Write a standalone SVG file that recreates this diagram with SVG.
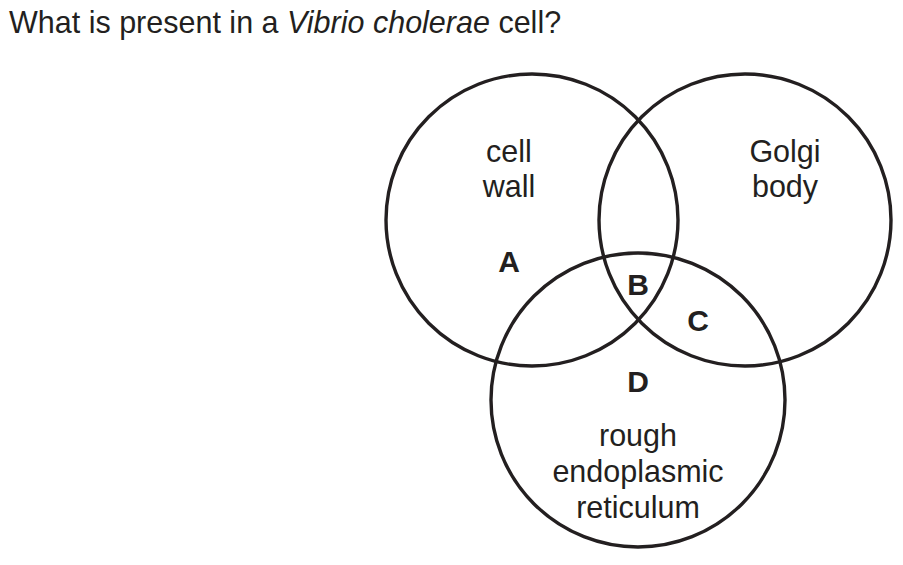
<svg xmlns="http://www.w3.org/2000/svg" width="903" height="565" viewBox="0 0 903 565">
<style>
.c{fill:none;stroke:#231f20;stroke-width:3.4}
.t{font-family:"Liberation Sans",Arial,sans-serif;font-size:30.5px;fill:#231f20;text-anchor:middle}
.b{font-family:"Liberation Sans",Arial,sans-serif;font-size:30px;font-weight:bold;fill:#231f20;text-anchor:middle}
</style>
<rect width="903" height="565" fill="#fff"/>
<text x="9" y="33" style="font-family:'Liberation Sans',Arial,sans-serif;font-size:30.5px;fill:#231f20">What is present in a <tspan font-style="italic">Vibrio cholerae</tspan> cell?</text>
<g id="connectors"></g>
<g id="cell-wall"><circle class="c" cx="532" cy="220" r="146"/><text class="t" x="509" y="162">cell</text><text class="t" x="509" y="197">wall</text></g>
<g id="golgi-body"><circle class="c" cx="745" cy="220" r="146"/><text class="t" x="785" y="162">Golgi</text><text class="t" x="785" y="197">body</text></g>
<g id="rough-er"><circle class="c" cx="638" cy="400" r="147"/><text class="t" x="638" y="446">rough</text><text class="t" x="638" y="482">endoplasmic</text><text class="t" x="638" y="518">reticulum</text></g>
<g id="label-A"><text class="b" x="509" y="272">A</text></g>
<g id="label-B"><text class="b" x="638" y="295">B</text></g>
<g id="label-C"><text class="b" x="698" y="331">C</text></g>
<g id="label-D"><text class="b" x="638" y="392">D</text></g>
</svg>
